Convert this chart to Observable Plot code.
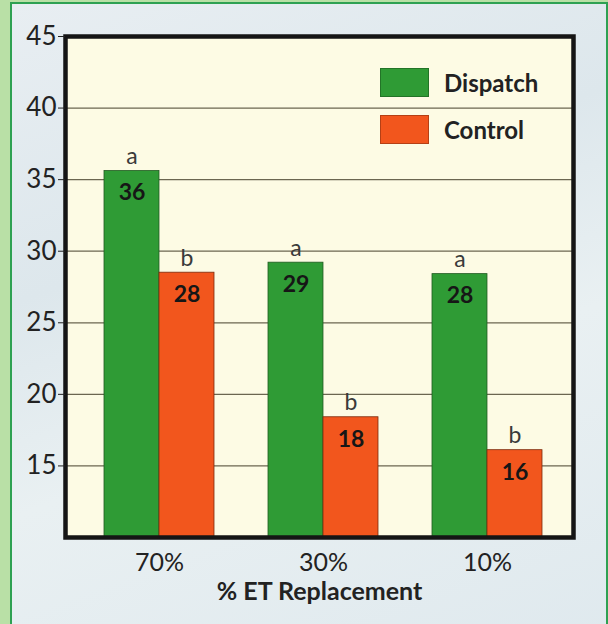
<!DOCTYPE html>
<html>
<head>
<meta charset="utf-8">
<script src="https://cdn.jsdelivr.net/npm/d3@7"></script>
<script src="https://cdn.jsdelivr.net/npm/@observablehq/plot@0.6"></script>
<style>
  html, body { margin: 0; padding: 0; }
  body { width: 608px; height: 624px; overflow: hidden; background: #b9e0a6; }
  #panel {
    position: absolute; left: 10px; top: 2px; width: 594px; height: 640px;
    border: 2px solid #2ea152; border-bottom: none;
    background: linear-gradient(160deg, #e8eef2 0%, #dde7ec 35%, #e9f0f2 60%, #dfe9ee 100%);
  }
  #chart { position: absolute; left: 0; top: 0; }
  #chart svg { background: transparent; }
  #chart svg [aria-label="x-axis label"] text { font-weight: bold; fill: #222; font-size: 25px; }
  #chart svg [aria-label="x-axis tick label"] text { font-size: 25px; }
  #legend { position: absolute; left: 380px; top: 68px; font-family: Lato, sans-serif; }
  .item { display: flex; align-items: center; height: 29px; margin-bottom: 18px; }
  .sw { width: 49px; height: 29px; box-sizing: border-box; border: 1px solid rgba(0,0,0,0.25); margin-right: 15px; }
  .lab { font-weight: bold; font-size: 24px; color: #222; }
</style>
</head>
<body>
<div id="panel"></div>
<div id="chart"></div>
<div id="legend"></div>
<script>
// ---- data ----
const categories = ["70%", "30%", "10%"];
const series = ["Dispatch", "Control"];
const dispatchValues = [35.6, 29.2, 28.4];
const controlValues = [28.5, 18.4, 16.1];
const dispatchLabels = ["36", "29", "28"];
const controlLabels = ["28", "18", "16"];
const dispatchLetters = ["a", "a", "a"];
const controlLetters = ["b", "b", "b"];
const colors = ["#2f9b35", "#f2561d"];
const yDomain = [10, 45];
const yTicks = [15, 20, 25, 30, 35, 40, 45];
const xTitle = "% ET Replacement";

const rows = [];
categories.forEach((c, i) => {
  rows.push({cat: c, series: series[0], value: dispatchValues[i], label: dispatchLabels[i], letter: dispatchLetters[i]});
  rows.push({cat: c, series: series[1], value: controlValues[i], label: controlLabels[i], letter: controlLetters[i]});
});
const D = rows.filter(d => d.series === series[0]);
const C = rows.filter(d => d.series === series[1]);

const W = 608, H = 624;
const mL = 65, mR = 35, mT = 36, mB = 87;
const paddingInner = 0.331, paddingOuter = 0.21;
const step = (W - mL - mR) / (categories.length - paddingInner + 2 * paddingOuter);
const bw = step * (1 - paddingInner);
const half = bw / 2;

const font = "Lato, sans-serif";

const chart = Plot.plot({
  width: W, height: H,
  marginLeft: mL, marginRight: mR, marginTop: mT, marginBottom: mB,
  style: {fontFamily: font, fontSize: "26px", color: "#222", background: "transparent"},
  x: {domain: categories, paddingInner, paddingOuter, align: 0.55},
  y: {domain: yDomain},
  color: {domain: series, range: colors},
  marks: [
    Plot.frame({fill: "#fdfbe4", stroke: null}),
    Plot.gridY(yTicks.filter(t => t < yDomain[1]), {stroke: "#6b6650", strokeOpacity: 1, strokeWidth: 1.2}),
    Plot.barY(D, {x: "cat", y1: yDomain[0], y2: "value", fill: "series", insetRight: half, stroke: "#1f5a20", strokeWidth: 0.8}),
    Plot.barY(C, {x: "cat", y1: yDomain[0], y2: "value", fill: "series", insetLeft: half, stroke: "#7a2a0c", strokeWidth: 0.8}),
    Plot.text(D, {x: "cat", y: "value", text: "label", dx: -half / 2, dy: 22, fontWeight: "bold", fontSize: 23, fill: "#161616"}),
    Plot.text(C, {x: "cat", y: "value", text: "label", dx: half / 2, dy: 22, fontWeight: "bold", fontSize: 23, fill: "#161616"}),
    Plot.text(D, {x: "cat", y: "value", text: "letter", dx: -half / 2, dy: -7, lineAnchor: "bottom", fontSize: 23, fill: "#3a3a3a"}),
    Plot.text(C, {x: "cat", y: "value", text: "letter", dx: half / 2, dy: -7, lineAnchor: "bottom", fontSize: 23, fill: "#3a3a3a"}),
    Plot.frame({stroke: "#151515", strokeWidth: 4.5}),
    Plot.axisY({ticks: yTicks, tickSize: 7, tickPadding: 2, label: null, stroke: "#222", fill: "#222"}),
    Plot.axisX({tickSize: 0, tickPadding: 16, label: xTitle, labelAnchor: "center", labelOffset: 62, fill: "#222"})
  ]
});
document.getElementById("chart").appendChild(chart);

const legend = document.getElementById("legend");
series.forEach((s, i) => {
  const item = document.createElement("div");
  item.className = "item";
  const sw = document.createElement("div");
  sw.className = "sw";
  sw.style.background = colors[i];
  const lab = document.createElement("span");
  lab.className = "lab";
  lab.textContent = s;
  item.appendChild(sw);
  item.appendChild(lab);
  legend.appendChild(item);
});
</script>
</body>
</html>
